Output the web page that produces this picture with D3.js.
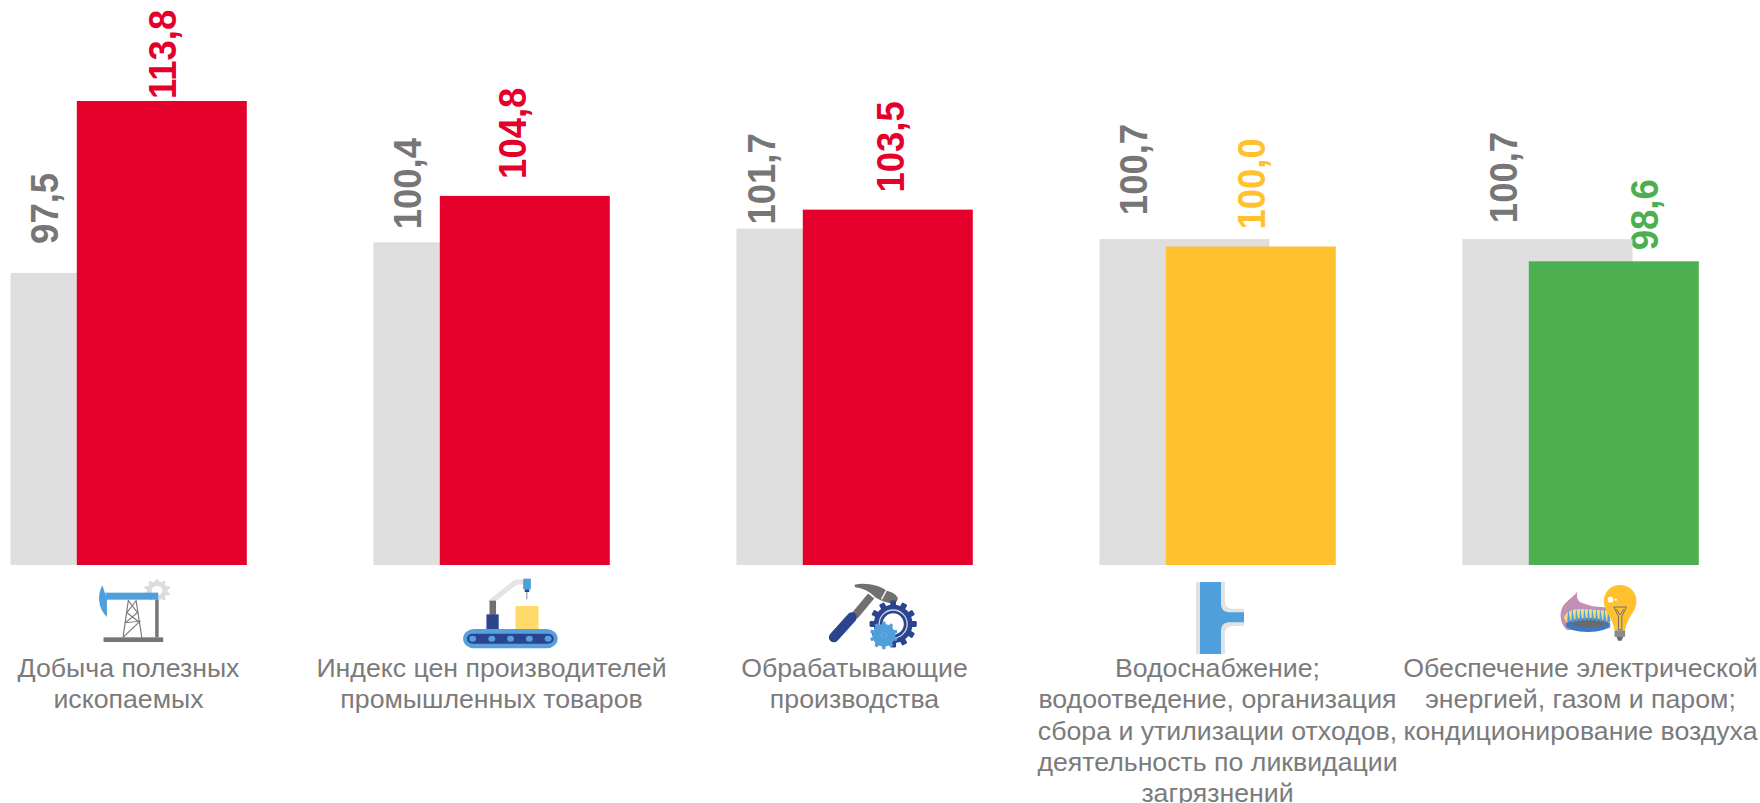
<!DOCTYPE html>
<html lang="ru">
<head>
<meta charset="utf-8">
<style>
html,body{margin:0;padding:0;background:#fff}
svg{display:block}
text{font-family:"Liberation Sans",Arial,sans-serif}
</style>
<script src="https://cdn.jsdelivr.net/npm/d3@7/dist/d3.min.js"></script>
</head>
<body>
<svg id="chart" width="1760" height="803"></svg>
<script>
const categories = ["mining","ppi","manufacturing","water","energy"];
const categoryLines = [
  ["Добыча полезных","ископаемых"],
  ["Индекс цен производителей","промышленных товаров"],
  ["Обрабатывающие","производства"],
  ["Водоснабжение;","водоотведение, организация","сбора и утилизации отходов,","деятельность по ликвидации","загрязнений"],
  ["Обеспечение электрической","энергией, газом и паром;","кондиционирование воздуха"]
];
const previousValues = [97.5,100.4,101.7,100.7,100.7];
const currentValues = [113.8,104.8,103.5,100.0,98.6];
const currentColors = ["#e4002b","#e4002b","#e4002b","#ffc12d","#4caf50"];
// label placement relative to the bar top / default label column
const previousLabelGaps = [29,13,4,24,16];
const currentLabelGaps = [2,17,17,17,11];
const previousLabelShift = [0,0,-9,0,7];
const currentLabelShift = [0,-13,2,0,30];

const fmt = v => v.toFixed(1).replace(".",",");
const svg = d3.select("#chart");
const bottom = 565;
const y = d3.scaleLinear().domain([69.8,113.8]).range([bottom,101]);
const x = d3.scaleBand().domain(categories).range([10.5,10.5+4*363+236]).paddingInner(127/363).paddingOuter(0);
const sub = d3.scaleOrdinal().domain(["prev","curr"]).range([0,66.3]);
const barW = 170;

// labels first: the bars cover the end of any label that touches them
const labels = svg.append("g").attr("font-weight","bold").attr("font-size",36.5);
categories.forEach((c,i)=>{
  const px = x(c)+33+previousLabelShift[i], py = y(previousValues[i])-previousLabelGaps[i];
  labels.append("text").attr("transform",`translate(${px+14},${py}) scale(1.08,1) rotate(-90)`)
    .attr("fill","#767676").text(fmt(previousValues[i]));
  const cx = x(c)+sub("curr")+barW/2+currentLabelShift[i], cy = y(currentValues[i])-currentLabelGaps[i];
  labels.append("text").attr("transform",`translate(${cx+14},${cy}) scale(1.08,1) rotate(-90)`)
    .attr("fill",currentColors[i]).text(fmt(currentValues[i]));
});

const bars = svg.append("g");
bars.selectAll("rect.prev").data(categories).join("rect").attr("class","prev")
  .attr("x",c=>x(c)+sub("prev")).attr("width",barW)
  .attr("y",(c,i)=>y(previousValues[i])).attr("height",(c,i)=>bottom-y(previousValues[i]))
  .attr("fill","#dedede");
bars.selectAll("rect.curr").data(categories).join("rect").attr("class","curr")
  .attr("x",c=>x(c)+sub("curr")).attr("width",barW)
  .attr("y",(c,i)=>y(currentValues[i])).attr("height",(c,i)=>bottom-y(currentValues[i]))
  .attr("fill",(c,i)=>currentColors[i]);

// category captions
const cap = svg.append("g").attr("font-size",25).attr("fill","#7b7b7b").attr("text-anchor","middle");
categories.forEach((c,i)=>{
  const cx = x(c)+x.bandwidth()/2;
  const t = cap.append("text").attr("transform",`translate(${cx},0) scale(1.068,1)`);
  categoryLines[i].forEach((l,k)=>{
    t.append("tspan").attr("x",0).attr("y",677+k*31.3).text(l);
  });
});

// icons, authored in a small magnified local frame
function icon(i,dx,oy,magX,magY){
  const c = categories[i];
  return svg.append("g").attr("transform",`translate(${x(c)+x.bandwidth()/2-dx},${oy}) scale(${1/magX},${1/(magY||magX)})`);
}
function gear(g,cx,cy,r,teeth,col,hole){
  const tw=r*0.3;
  for(let k=0;k<teeth;k++){
    g.append("rect").attr("x",cx-tw/2).attr("y",cy-r*1.22).attr("width",tw).attr("height",r*0.5)
      .attr("rx",tw*0.2).attr("fill",col).attr("transform",`rotate(${k*360/teeth} ${cx} ${cy})`);
  }
  g.append("circle").attr("cx",cx).attr("cy",cy).attr("r",r).attr("fill",col);
  g.append("circle").attr("cx",cx).attr("cy",cy).attr("r",r*hole).attr("fill","#fff");
}
// pump
{
  const g = icon(0,69,560,2.613,3);
  gear(g,255,92,28,10,"#dcdcdc",0.5);
  g.append("path").attr("d","M112 76 C98 105 100 145 124 171 L124 118 Z").attr("fill","#4f9fdc");
  g.append("rect").attr("x",120).attr("y",98).attr("width",138).attr("height",21).attr("fill","#4f9fdc");
  g.append("rect").attr("x",250).attr("y",119).attr("width",9).attr("height",113).attr("fill","#767676");
  g.append("rect").attr("x",115).attr("y",232).attr("width",156).attr("height",14).attr("fill","#767676");
  g.append("path").attr("d","M180 120 L166 232 M200 120 L215 232 M180 122 L204 158 L172 188 L210 184 L166 232 M200 122 L176 158 L208 186")
    .attr("fill","none").attr("stroke","#777").attr("stroke-width",3);
}
// conveyor
{
  const g = icon(1,431,560,2.613,3);
  g.append("path").attr("d","M1122 128 L1190 66 L1212 66").attr("fill","none").attr("stroke","#e4e4e4").attr("stroke-width",15);
  g.append("rect").attr("x",1209).attr("y",56).attr("width",20).attr("height",32).attr("fill","#4f9fdc");
  g.append("rect").attr("x",1213).attr("y",88).attr("width",12).attr("height",8).attr("fill","#2b4490");
  g.append("rect").attr("x",1217).attr("y",96).attr("width",3).attr("height",22).attr("fill","#999");
  g.append("rect").attr("x",1121).attr("y",122).attr("width",17).attr("height",42).attr("fill","#707070");
  g.append("rect").attr("x",1113).attr("y",163).attr("width",32).attr("height",46).attr("fill","#2b4490");
  g.append("rect").attr("x",1189).attr("y",138).attr("width",60).attr("height",71).attr("fill","#ffd96a");
  g.append("rect").attr("x",1052).attr("y",207).attr("width",247).attr("height",58).attr("rx",29).attr("fill","#56a0dc");
  g.append("rect").attr("x",1062).attr("y",221).attr("width",227).attr("height",30).attr("rx",15).attr("fill","#2b4490");
  [1077,1127,1176,1225,1274].forEach(cx=>g.append("circle").attr("cx",cx).attr("cy",236).attr("r",9).attr("fill","#56a0dc"));
}
// hammer and gears
{
  const g = icon(2,74,560,3);
  g.append("path").attr("d","M222 74 C255 66 300 76 318 92 C335 96 350 104 352 116 C350 126 342 132 332 130 C316 128 300 122 284 112 C268 94 245 84 224 82 Z").attr("fill","#707070");
  g.append("path").attr("d","M317 92 L303 118").attr("stroke","#e8e8e8").attr("stroke-width",5);
  g.append("path").attr("d","M272 108 L222 168").attr("stroke","#707070").attr("stroke-width",24);
  g.append("path").attr("d","M214 172 L160 232").attr("stroke","#2b4490").attr("stroke-width",30).attr("stroke-linecap","round");
  gear(g,338,192,58,12,"#2b4490",0.55);
  g.append("circle").attr("cx",338).attr("cy",192).attr("r",42).attr("fill","none").attr("stroke","#cfd6e8").attr("stroke-width",4);
  gear(g,310,226,34,10,"#4f9fdc",0.25);
  g.append("path").attr("d","M310 190 V262 M275 226 H345 M285 200 L335 252 M335 200 L285 252").attr("stroke","#4f9fdc").attr("stroke-width",5);
}
// pipe tee
{
  const g = icon(3,47.5,570,3);
  g.append("path").attr("d","M78 36 H165 V90 C165 108 172 116 190 116 H222 V168 H190 C172 168 165 176 165 194 V252 H78 Z").attr("fill","#e2e2e2");
  g.append("path").attr("d","M90 36 H153 V100 C153 120 163 127 182 127 H222 V157 H182 C163 157 153 164 153 184 V252 H90 Z").attr("fill","#4f9fdc");
}
// gas burner and bulb
{
  const g = icon(4,40,575,3);
  g.append("path").attr("d","M110 50 C100 65 80 75 68 92 C55 112 58 148 80 165 L210 160 L205 96 C170 98 145 92 125 84 C110 78 108 66 110 50 Z").attr("fill","#c48fb2");
  g.append("path").attr("d","M70 128 C78 108 100 100 130 102 L205 108 L205 160 L90 160 Z").attr("fill","#f4dc7e");
  g.append("ellipse").attr("cx",142).attr("cy",150).attr("rx",66).attr("ry",21).attr("fill","#3d78c0");
  d3.range(80,205,12).forEach((px,k)=>{
    const h = 26-Math.abs(k-5)*1.2;
    g.append("path").attr("d",`M${px} 140 L${px+3} ${122-h} L${px+10} 140 Z`).attr("fill","#4f9fdc");
  });
  g.append("ellipse").attr("cx",145).attr("cy",146).attr("rx",50).attr("ry",10).attr("fill","#6a6a6a");
  g.append("path").attr("d","M238 30 C205 30 190 58 190 78 C190 112 218 126 222 166 L254 166 C258 126 288 112 288 78 C288 52 268 30 238 30 Z").attr("fill","#ffc12d");
  g.append("path").attr("d","M220 96 H258 L244 124 V164 H234 V124 Z M228 102 L239 120 L250 102").attr("fill","none").attr("stroke","#6f6f6f").attr("stroke-width",3);
  g.append("rect").attr("x",222).attr("y",166).attr("width",32).attr("height",20).attr("rx",4).attr("fill","#8a8a8a");
  g.append("path").attr("d","M228 186 H248 L243 197 H233 Z").attr("fill","#6a6a6a");
  g.append("circle").attr("cx",210).attr("cy",74).attr("r",8.5).attr("fill","#fff");
  g.append("circle").attr("cx",226).attr("cy",74).attr("r",3.5).attr("fill","#fff");
}
</script>
</body>
</html>
